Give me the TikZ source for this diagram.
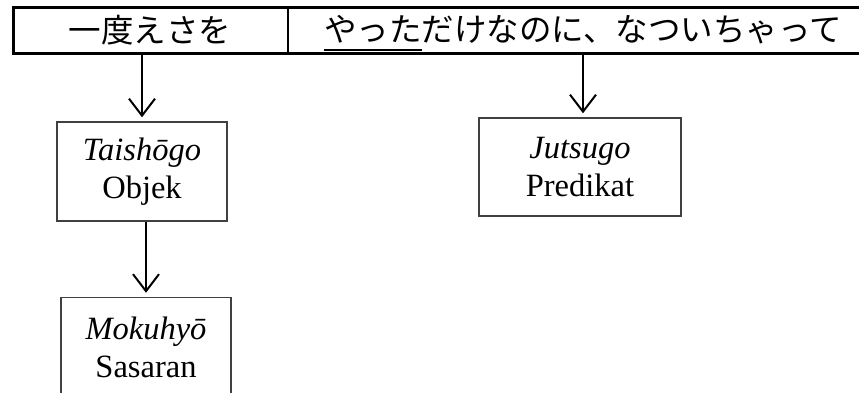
\documentclass[tikz,border=0pt]{standalone}
\usepackage{fontspec}
\setmainfont{Liberation Serif}
\newfontfamily\jp{Noto Sans CJK JP}
\usetikzlibrary{arrows.meta}
\newcommand\jpul[1]{\setbox0\hbox{#1}\rlap{\smash{\rule[-9pt]{\wd0}{2pt}}}\box0}
\begin{document}
\begin{tikzpicture}[x=1pt,y=-1pt,
  jtext/.style={inner sep=0pt, font=\jp\fontsize{32.5}{38}\selectfont},
  term/.style={draw=black!75, line width=1.4pt, minimum width=170pt, minimum height=99pt,
    align=center, inner sep=0pt, font=\fontsize{32.5}{38}\selectfont},
  arr/.style={line width=2pt, -{Straight Barb[length=17pt,width=26pt,line width=2pt]}, shorten >=4pt}
]
\useasboundingbox (0,0) rectangle (859,392);
% table
\node[draw, line width=2.8pt, minimum width=850pt, minimum height=46pt, inner sep=0pt, anchor=north west] (tab) at (12,6) {};
\coordinate (dtop) at (288,6);
\coordinate (dbot) at (288,52);
\draw[line width=1.3pt] (dtop) -- (dbot);
\node[jtext] (t1) at (150,30) {一度えさを};
\node[jtext] (t2) at (583,30) {\jpul{やった}だけなのに、なついちゃって};
% boxes
\node[term] (T) at (142,171.5) {\textit{Taishōgo}\\Objek};
\node[term] (M) at (146,347) {\textit{Mokuhyō}\\Sasaran};
\node[term, minimum width=202pt, minimum height=98pt] (J) at (580,167) {\textit{Jutsugo}\\Predikat};
% arrows
\coordinate (a1) at (142,52);
\coordinate (a2) at (583,52);
\draw[arr] (a1) -- (a1 |- T.north);
\draw[arr] (a2) -- (a2 |- J.north);
\draw[arr] (T.south -| M.north) -- (M.north);
\end{tikzpicture}
\end{document}
